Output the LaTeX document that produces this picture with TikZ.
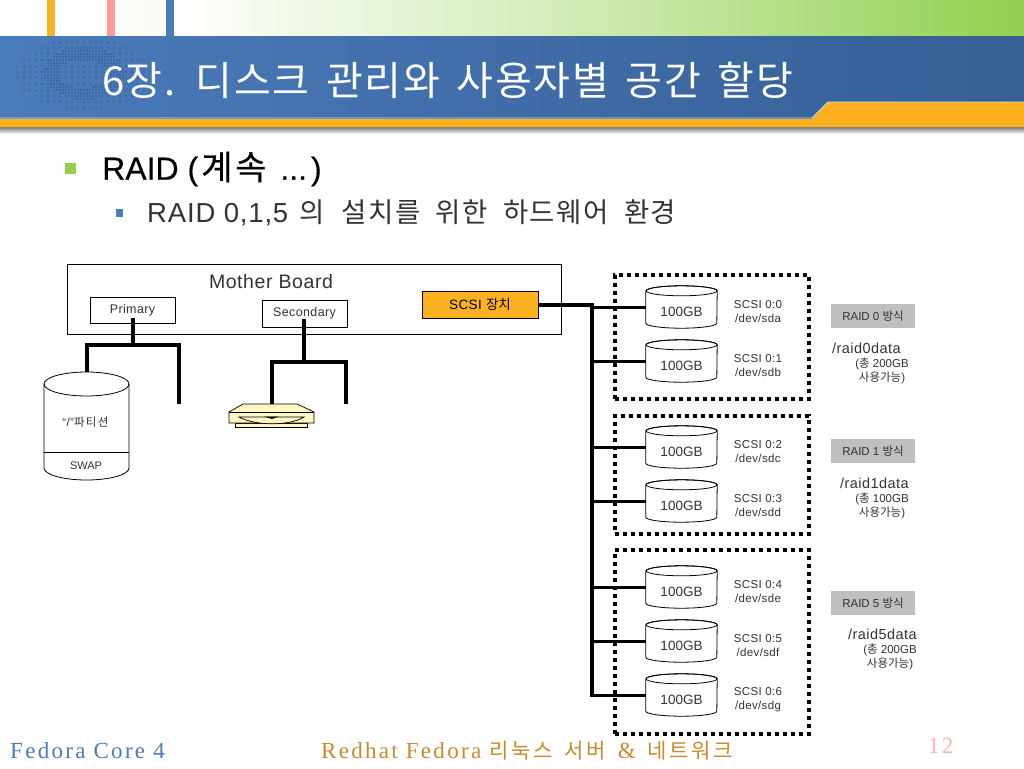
\documentclass[tikz,border=0pt]{standalone}
\usepackage{fontspec}
\setmainfont{Liberation Sans}
\newfontfamily\kr{Noto Sans CJK KR}
\newfontfamily\krt[LetterSpace=4,WordSpace=1.6]{Noto Sans CJK KR}
\newfontfamily\krs[LetterSpace=6,WordSpace=1.9]{Noto Sans CJK KR}
\newfontfamily\krf[LetterSpace=12]{Noto Sans CJK KR}
\newfontfamily\krb[LetterSpace=8,FakeBold=0.4]{Noto Sans CJK KR}
\newfontfamily\ser[LetterSpace=10]{Liberation Serif}
\newfontfamily\ls[LetterSpace=3]{Liberation Sans}
\newfontfamily\hb[FakeBold=0.4]{Liberation Sans}
\usetikzlibrary{calc}
\definecolor{barl}{HTML}{4A7BBB}
\definecolor{barr}{HTML}{365F95}
\definecolor{oran}{HTML}{FDB120}
\definecolor{grn}{HTML}{92D050}
\definecolor{txt}{HTML}{333333}
\definecolor{foot}{HTML}{C98A2B}
\definecolor{cdy}{HTML}{FFF6C4}
\tikzset{
  board/.style={draw=black,line width=.8pt,fill=white,inner sep=0},
  port/.style={draw=black,line width=.7pt,fill=white,inner sep=0,font=\ls\fontsize{12.5}{12.5}\selectfont,text=txt},
  bus/.style={line width=4pt,black,line cap=butt},
  branch/.style={line width=3pt,black},
  group/.style={draw=black,line width=4pt,dash pattern=on 4pt off 4pt,inner sep=0},
  diskbox/.style={minimum width=71pt,minimum height=42pt,inner sep=0,font=\fontsize{13.5}{13.5}\selectfont,text=txt},
  small/.style={font=\ls\fontsize{11.5}{14}\selectfont,text=txt,align=center,inner sep=0},
  mode/.style={fill=black!25,minimum width=84pt,minimum height=24pt,inner sep=0,font=\fontsize{11.5}{12}\selectfont,text=txt},
  mount/.style={font=\ls\fontsize{14.5}{14.5}\selectfont,text=txt,inner sep=0,anchor=west},
  note/.style={font=\fontsize{11.5}{14}\selectfont,text=txt,align=center,inner sep=0}
}
\newcommand\disk[3]{%
  \node[diskbox] (#1) at (#2,#3) {};
  \draw[line width=.8pt,fill=white] ($(#1.north west)+(0,5)$) -- ($(#1.south west)+(0,-5)$)
    arc[x radius=35.5,y radius=5,start angle=180,end angle=0] -- ($(#1.north east)+(0,5)$)
    arc[x radius=35.5,y radius=5,start angle=0,end angle=-180];
  \draw[line width=.8pt] ($(#1.north)+(0,5)$) ellipse[x radius=35.5,y radius=5];
  \node[diskbox] at ($(#1)+(0,5)$) {100GB};
}
\begin{document}
\begin{tikzpicture}[x=1pt,y=-1pt]
\useasboundingbox (0,0) rectangle (1024,768);
\fill[white] (0,0) rectangle (1024,768);
% top band
\shade[left color=white,right color=grn,middle color=white!55!grn] (176,0) rectangle (1024,37);
\shade[left color=white,right color=white!93!grn] (55,0) rectangle (166,37);
\fill[oran] (47,0) rectangle (55,37);
\fill[red!40!white] (107,0) rectangle (115,37);
\fill[barl] (166,0) rectangle (174,37);
% title band
\shade[top color=black!60,bottom color=white] (0,126) rectangle (1024,134);
\shade[left color=barl,right color=barr] (0,37) rectangle (1024,118);
\fill[oran] (0,119) -- (812,119) -- (828,102) -- (1024,102) -- (1024,127) -- (0,127) -- cycle;
\draw[white!85!black,line width=.8pt] (0,118) -- (812,118) -- (828,102) -- (1024,102);
% halftone
\foreach \px in {18,21,...,150}{\foreach \py in {39,42,...,111}{%
  \pgfmathsetmacro\dd{((\px-84)/40)^2+((\py-73)/27)^2}
  \pgfmathsetmacro\di{((\px-82)/25)^2+((\py-74)/14)^2}
  \pgfmathsetmacro\de{((\px-84)/67)^2+((\py-74)/36)^2}
  \pgfmathsetmacro\show{(\dd<=1 && \di>=1) ? 1 : ((\de<=1 && mod(\px,6)==0 && mod(\py,6)==0) ? 1 : 0)}
  \ifdim\show pt>0pt \fill[black!55!barl] (\px,\py) circle[radius=.65]; \fi
}}
\node[font=\krt\fontsize{40}{40}\selectfont,text=white,anchor=west,inner sep=0] (title) at (102,80) {6장. 디스크 관리와 사용자별 공간 할당};
% bullets
\fill[grn] (65,163) rectangle (76,174);
\fill[barl] (116,209) rectangle (123,217);
\node[font=\hb\fontsize{32}{32}\selectfont,text=black,anchor=west,inner sep=0] (h1) at (102,169) {RAID (\hspace{3pt}{\krb\fontsize{34}{34}\selectfont 계속}\hspace{5pt} ...\hspace{4pt})};
\node[font=\ls\fontsize{27.5}{27.5}\selectfont,text=txt,anchor=west,inner sep=0] (h2) at (147,213) {RAID 0,1,5 \hspace{3pt}{\krs\fontsize{27.5}{27.5}\selectfont 의 \hspace{2pt}설치를 위한 하드웨어 환경}};
% board
\node[board,minimum width=494pt,minimum height=70pt] (mb) at (314,299) {};
\node[font=\ls\fontsize{19.5}{20}\selectfont,text=txt,inner sep=0] (mbl) at (271,282) {Mother Board};
\node[port,minimum width=85pt,minimum height=26pt] (prim) at (132.5,310) {\raisebox{-1.5pt}{Primary}};
\node[port,minimum width=85pt,minimum height=27pt] (sec) at (304.5,313.5) {\raisebox{-1.5pt}{Secondary}};
\node[port,fill=oran,minimum width=116pt,minimum height=27pt,font=\ls\fontsize{13.5}{13.5}\selectfont,text=black] (scsi) at (480,304.5) {SCSI {\kr 장치}};
% primary tree
\coordinate (pj) at (133,345);
\coordinate (pl) at (87,373);
\coordinate (pr) at (179,404);
\coordinate (sj) at (304,362);
\coordinate (sl) at (272,404);
\coordinate (sr) at (346,404);
\draw[bus] (133,318) -- (pj);
\draw[bus,line join=miter] (pl) |- (pj) -| (pr);
\draw[bus] (304,319) -- (sj);
\draw[bus,line join=miter] (sl) |- (sj) -| (sr);
% left disk
\node[minimum width=85pt,minimum height=108pt,inner sep=0] (hd) at (86.5,426) {};
\draw[line width=.8pt,fill=white] (44,384) -- (44,468) arc[x radius=42.5,y radius=12,start angle=180,end angle=0] -- (129,384) arc[x radius=42.5,y radius=12,start angle=0,end angle=-180];
\draw[line width=.8pt] (44,384) arc[x radius=42.5,y radius=12,start angle=180,end angle=0];
\draw[line width=.8pt] (44,452) -- (129,452);
\node[font=\ls\fontsize{11.5}{12}\selectfont,text=txt,inner sep=0] (hd1) at (85.5,422) {“/”{\krf\fontsize{11.5}{12}\selectfont 파티션}};
\node[font=\fontsize{11}{12}\selectfont,text=txt,inner sep=0] (hd2) at (86,466) {SWAP};
% optical drive
\draw[line width=.7pt,fill=cdy] (235,423) rectangle (307,427);
\draw[line width=.7pt,fill=cdy] (229,412) -- (243,404) -- (297,404) -- (314,412) -- (314,423) -- (229,423) -- cycle;
\draw[line width=.7pt] (229,412) -- (314,412);
\draw[line width=.7pt,fill=cdy] (239,417) .. controls (255,426) and (290,426) .. (304,417) -- cycle;
\fill[black] (264,416.5) -- (279,416.5) -- (272,419) -- cycle;
% groups
\node[group,minimum width=194pt,minimum height=124pt] (g0) at (712,337) {};
\node[group,minimum width=194pt,minimum height=118pt] (g1) at (712,475) {};
\node[group,minimum width=194pt,minimum height=184pt] (g2) at (712,642) {};
% disks
\disk{d0}{681.5}{307}
\disk{d1}{681.5}{361}
\disk{d2}{681.5}{447}
\disk{d3}{681.5}{501}
\disk{d4}{681.5}{587}
\disk{d5}{681.5}{641}
\disk{d6}{681.5}{695}
% trunk
\coordinate (tt) at (592,304.5);
\coordinate (tb) at (592,696.5);
\draw[bus] (scsi.east) -- ($(tt)+(2,0)$);
\draw[bus] (tt) -- (tb);
\foreach \d in {d0,d1,d2,d3,d4,d5,d6}{\draw[branch] (tt |- \d.west) -- (\d.west);}
% scsi labels
\node[small] (s0) at (758,312) {SCSI 0:0\\/dev/sda};
\node[small] (s1) at (758,366) {SCSI 0:1\\/dev/sdb};
\node[small] (s2) at (758,452) {SCSI 0:2\\/dev/sdc};
\node[small] (s3) at (758,506) {SCSI 0:3\\/dev/sdd};
\node[small] (s4) at (758,592) {SCSI 0:4\\/dev/sde};
\node[small] (s5) at (758,646) {SCSI 0:5\\/dev/sdf};
\node[small] (s6) at (758,700) {SCSI 0:6\\/dev/sdg};
% modes
\node[mode] (m0) at (873,316) {RAID 0 {\kr 방식}};
\node[mode] (m1) at (873,451) {RAID 1 {\kr 방식}};
\node[mode] (m2) at (873,603) {RAID 5 {\kr 방식}};
\node[mount] (r0) at (832,348) {/raid0data};
\node[mount] (r1) at (840,483) {/raid1data};
\node[mount] (r2) at (848,634) {/raid5data};
\node[note] (n0) at (882,371) {({\kr 총} 200GB\\{\kr 사용가능})};
\node[note] (n1) at (882,506) {({\kr 총} 100GB\\{\kr 사용가능})};
\node[note] (n2) at (890,657) {({\kr 총} 200GB\\{\kr 사용가능})};
% footer
\node[font=\ser\fontsize{23}{23}\selectfont,text=barl,anchor=west,inner sep=0] (f1) at (10,751) {Fedora Core 4};
\node[font=\ser\fontsize{23}{23}\selectfont,text=foot,anchor=west,inner sep=0] (f2) at (321,751) {Redhat Fedora {\krf\fontsize{21}{21}\selectfont 리눅스\hspace{5pt} 서버}\hspace{4pt} \& \hspace{4pt}{\krf\fontsize{21}{21}\selectfont 네트워크}};
\node[font=\ser\fontsize{23}{23}\selectfont,text=red!30!white,anchor=west,inner sep=0] (f3) at (928,746) {12};
\end{tikzpicture}
\end{document}
